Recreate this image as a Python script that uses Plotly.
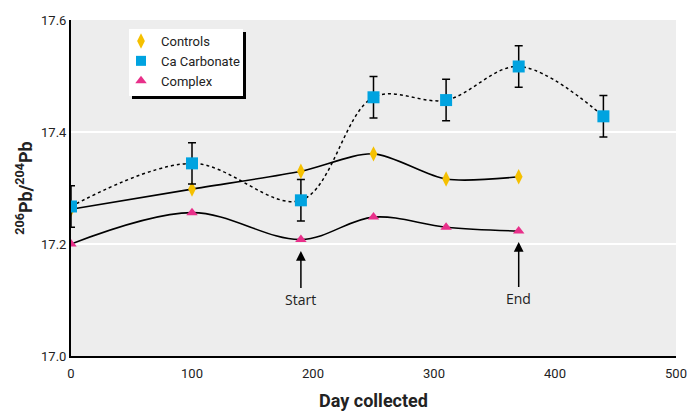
import plotly.graph_objects as go

days_controls = [0, 100, 190, 250, 310, 370]
controls = [17.262, 17.298, 17.330, 17.361, 17.316, 17.320]

days_carb = [0, 100, 190, 250, 310, 370, 440]
carbonate = [17.267, 17.344, 17.278, 17.462, 17.457, 17.517, 17.428]
carbonate_err = [0.037, 0.037, 0.037, 0.037, 0.037, 0.037, 0.037]

days_complex = [0, 100, 190, 250, 310, 370]
complex_ = [17.200, 17.256, 17.208, 17.248, 17.230, 17.223]

x_ticks = [0, 100, 200, 300, 400, 500]
y_ticks = [17.0, 17.2, 17.4, 17.6]

GOLD = "#F5C000"
BLUE = "#00A3E0"
PINK = "#E8308A"
FONT = "Roboto, sans-serif"

fig = go.Figure()

fig.add_trace(go.Scatter(
    x=days_carb, y=carbonate, mode="lines",
    line=dict(color="black", width=1.5, dash="3px,3px", shape="spline", smoothing=1.0),
    showlegend=False, hoverinfo="skip"))
fig.add_trace(go.Scatter(
    x=days_controls, y=controls, mode="lines+markers",
    line=dict(color="black", width=1.6, shape="spline", smoothing=0.8),
    marker=dict(symbol="diamond-tall", size=11, color=GOLD),
    showlegend=False))
fig.add_trace(go.Scatter(
    x=days_complex, y=complex_, mode="lines+markers",
    line=dict(color="black", width=1.6, shape="spline", smoothing=1.0),
    marker=dict(symbol="triangle-up", size=10, color=PINK),
    showlegend=False))
fig.add_trace(go.Scatter(
    x=days_carb, y=carbonate, mode="markers",
    marker=dict(symbol="square", size=12, color=BLUE),
    error_y=dict(type="data", array=carbonate_err, color="black", thickness=1.5, width=4),
    showlegend=False))

# legend entries
fig.add_trace(go.Scatter(x=[None], y=[None], mode="markers", name="Controls",
                         marker=dict(symbol="diamond-tall", size=11, color=GOLD)))
fig.add_trace(go.Scatter(x=[None], y=[None], mode="markers", name="Ca Carbonate",
                         marker=dict(symbol="square", size=10, color=BLUE)))
fig.add_trace(go.Scatter(x=[None], y=[None], mode="markers", name="Complex",
                         marker=dict(symbol="triangle-up", size=10, color=PINK)))

fig.add_annotation(x=190, y=17.1875, ax=0, ay=48, text="Start", showarrow=True,
                   arrowhead=2, arrowsize=1.3, arrowwidth=1.5, arrowcolor="black",
                   font=dict(family="Open Sans, sans-serif", size=14, color="#222"))
fig.add_annotation(x=370, y=17.2035, ax=0, ay=56, text="End", showarrow=True,
                   arrowhead=2, arrowsize=1.3, arrowwidth=1.5, arrowcolor="black",
                   font=dict(family="Open Sans, sans-serif", size=14, color="#222"))

# legend box with drop shadow (screen px -> paper; plot area spans x 71..676, y 20..356)
def px(xp):
    return (xp - 71) / 605

def py(yp):
    return (356 - yp) / 336

fig.add_shape(type="rect", xref="paper", yref="paper",
              x0=px(132), x1=px(246), y0=py(99), y1=py(32),
              fillcolor="black", line=dict(width=0), layer="above")
fig.add_shape(type="rect", xref="paper", yref="paper",
              x0=px(129), x1=px(243), y0=py(96), y1=py(29),
              fillcolor="white", line=dict(width=0), layer="above")

fig.update_layout(
    width=688, height=411,
    margin=dict(l=71, r=12, t=20, b=55),
    paper_bgcolor="white", plot_bgcolor="#EDEDED",
    font=dict(family=FONT, size=14, color="#222"),
    legend=dict(x=px(121), y=py(26), xanchor="left", yanchor="top",
                bgcolor="rgba(0,0,0,0)", borderwidth=0, font=dict(size=13),
                itemsizing="trace", tracegroupgap=0, itemwidth=30),
    xaxis=dict(range=[0, 500], tickvals=x_ticks, showgrid=False, zeroline=False,
               showline=True, linecolor="black", linewidth=2, ticks="", automargin=False,
               ticklabelstandoff=4, ticklabeloverflow="allow",
               title=dict(text="<b>Day collected</b>", font=dict(size=18), standoff=18),
               tickfont=dict(size=13)),
    yaxis=dict(range=[17.0, 17.6], tickvals=y_ticks, ticktext=["17.0", "17.2", "17.4", "17.6"],
               showgrid=True, gridcolor="white", gridwidth=2, zeroline=False,
               showline=True, linecolor="black", linewidth=2, ticks="", automargin=False,
               title=dict(text="<b><sup>206</sup>Pb/<sup>204</sup>Pb</b>", font=dict(size=18), standoff=4),
               tickfont=dict(size=13)),
)

fig.write_html(
    "out.html",
    config={"displayModeBar": False},
    post_script="document.body.style.margin='0';document.body.style.overflow='hidden';",
)
